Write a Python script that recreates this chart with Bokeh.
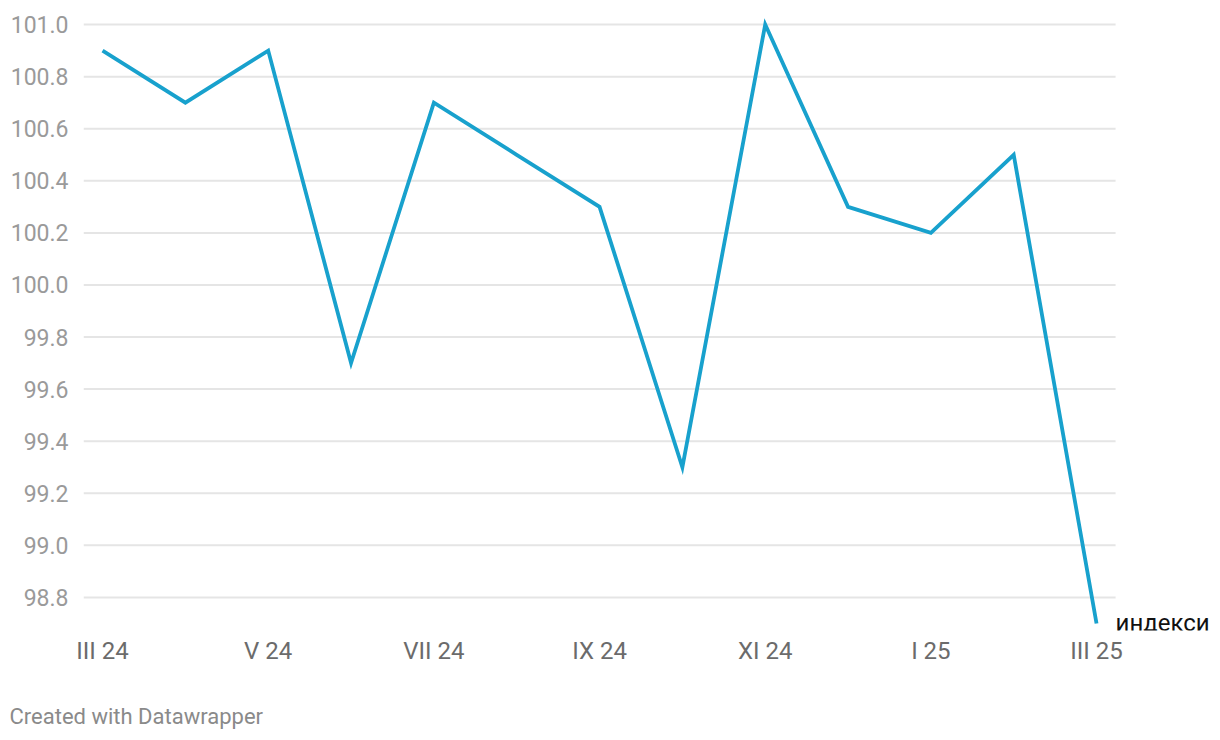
from bokeh.plotting import figure
from bokeh.models import FixedTicker, Label, Title, Range1d
from bokeh.embed import file_html
from bokeh.resources import INLINE

months = ["III 24", "IV 24", "V 24", "VI 24", "VII 24", "VIII 24", "IX 24",
          "X 24", "XI 24", "XII 24", "I 25", "II 25", "III 25"]
values = [100.9, 100.7, 100.9, 99.7, 100.7, 100.5, 100.3,
          99.3, 101.0, 100.3, 100.2, 100.5, 98.7]
y_ticks = [98.8, 99.0, 99.2, 99.4, 99.6, 99.8, 100.0, 100.2, 100.4, 100.6, 100.8, 101.0]
series_label = "индекси"
credit = "Created with Datawrapper"

xs = list(range(len(months)))
x_lo, x_hi = -0.23, len(months) - 1 + 0.23

p = figure(frame_width=1129, frame_height=614, output_backend="svg", toolbar_location=None,
           x_range=Range1d(x_lo, len(months) - 1 + 1.40),
           y_range=Range1d(98.673, 101.031),
           min_border_left=83, min_border_right=0, min_border_top=16,
           min_border_bottom=100)
p.outline_line_color = None
p.background_fill_color = "white"
p.border_fill_color = "white"

# horizontal grid lines (limited to the data area, like the original)
p.segment(x0=[x_lo] * len(y_ticks), x1=[x_hi] * len(y_ticks), y0=y_ticks, y1=y_ticks,
          line_color="#e5e5e5", line_width=2)

p.line(xs, values, line_color="#18a1cd", line_width=3.8, line_join="miter")

# axes
p.yaxis.ticker = FixedTicker(ticks=y_ticks)
p.yaxis.major_label_overrides = {t: f"{t:.1f}" for t in y_ticks}
p.yaxis.axis_line_color = None
p.yaxis.major_tick_line_color = None
p.yaxis.minor_tick_line_color = None
p.yaxis.major_label_standoff = 9
p.yaxis.major_label_text_font = "Roboto"
p.yaxis.major_label_text_font_size = "23px"
p.yaxis.major_label_text_color = "#9a9a9a"

xt = xs[::2]
p.xaxis.ticker = FixedTicker(ticks=xt)
p.xaxis.major_label_overrides = {i: months[i] for i in xt}
p.xaxis.axis_line_color = None
p.xaxis.major_tick_line_color = None
p.xaxis.minor_tick_line_color = None
p.xaxis.major_label_standoff = 0
p.xaxis.major_label_text_font = "Roboto"
p.xaxis.major_label_text_font_size = "24px"
p.xaxis.major_label_text_color = "#6b6b6b"

p.xgrid.grid_line_color = None
p.ygrid.grid_line_color = None

p.add_layout(Label(x=xs[-1], y=values[-1], x_offset=19, y_offset=0, text=series_label,
                   text_font="Roboto", text_font_size="24px", text_color="#111111",
                   text_baseline="middle", text_align="left"))

p.add_layout(Title(text=credit, text_font="Roboto", text_font_size="22px",
                   text_font_style="normal", text_color="#8a8a8a", align="left",
                   offset=-74, standoff=68), "below")

open("out.html", "w").write(file_html(p, INLINE))
